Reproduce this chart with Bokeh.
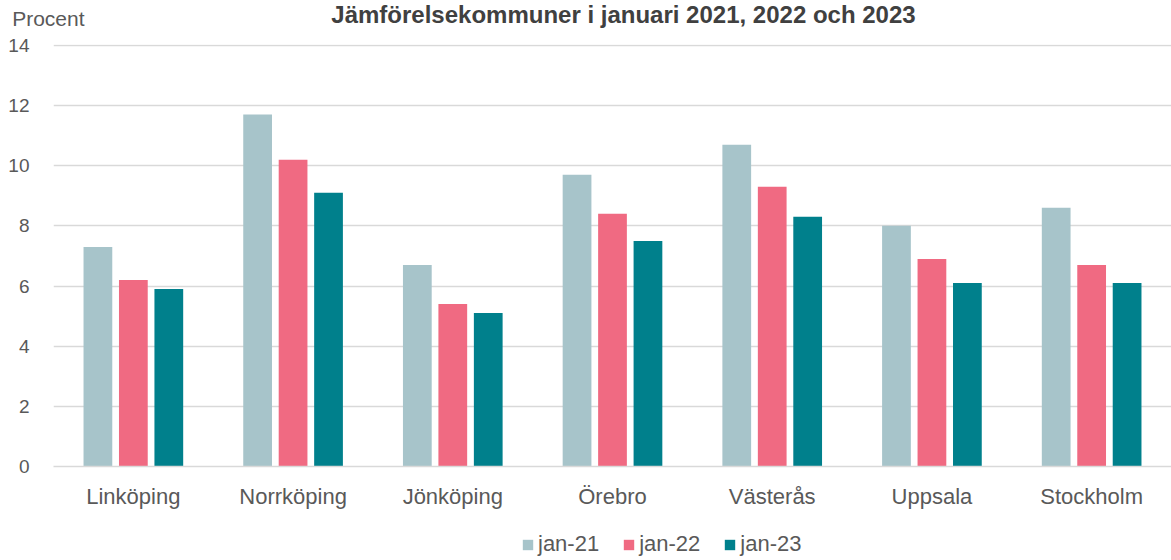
from bokeh.plotting import figure
from bokeh.layouts import column
from bokeh.models import Range1d, FactorRange, Legend, LegendItem, FixedTicker
from bokeh.transform import dodge
from bokeh.embed import file_html
from bokeh.resources import INLINE
from bokeh.core.properties import value

cities = ["Linköping", "Norrköping", "Jönköping", "Örebro", "Västerås", "Uppsala", "Stockholm"]
jan21 = [7.3, 11.7, 6.7, 9.7, 10.7, 8.0, 8.6]
jan22 = [6.2, 10.2, 5.4, 8.4, 9.3, 6.9, 6.7]
jan23 = [5.9, 9.1, 5.1, 7.5, 8.3, 6.1, 6.1]
series_names = ["jan-21", "jan-22", "jan-23"]
colors = ["#A7C4CA", "#F06A82", "#00808C"]
y_ticks = [0, 2, 4, 6, 8, 10, 12, 14]
title_text = "Jämförelsekommuner i januari 2021, 2022 och 2023"
unit_text = "Procent"

FONT = "Liberation Sans"
GREY = "#595959"
W = 1171
HEAD_H = 36
LEG_H = 35
LEFT = 53

# ---- header row: title (in frame) and unit text (as the header's axis label row)
h = figure(width=W, height=HEAD_H, x_range=Range1d(-LEFT, W - LEFT), y_range=Range1d(HEAD_H, 0),
           min_border_left=LEFT, min_border_right=0, min_border_top=0, min_border_bottom=0,
           output_backend="svg", toolbar_location=None)
h.title.visible = False
h.xaxis.visible = False
h.grid.visible = False
h.outline_line_color = None
h.yaxis.ticker = FixedTicker(ticks=[18])
h.yaxis.major_label_overrides = {18: unit_text}
h.yaxis.axis_line_color = None
h.yaxis.major_tick_line_color = None
h.yaxis.minor_tick_line_color = None
h.yaxis.major_label_text_font = FONT
h.yaxis.major_label_text_font_size = "21px"
h.yaxis.major_label_text_color = GREY
h.yaxis.major_label_standoff = -37
h.text(x=[597 - LEFT], y=[0], text=[title_text], text_font=value(FONT), text_font_size="24px",
       text_font_style="bold", text_color="#404040", text_baseline="top", text_align="center")

# ---- main chart
p = figure(x_range=FactorRange(*cities), y_range=Range1d(0, 14.03),
           width=W, height=560 - HEAD_H - LEG_H,
           min_border_left=LEFT, min_border_right=0, min_border_top=8, min_border_bottom=59,
           output_backend="svg", toolbar_location=None)
p.outline_line_color = None
p.title.visible = False

data = dict(city=cities, jan21=jan21, jan22=jan22, jan23=jan23)
offsets = [-0.222, 0.0, 0.222]
keys = ["jan21", "jan22", "jan23"]
for k, off, c in zip(keys, offsets, colors):
    p.vbar(x=dodge("city", off, range=p.x_range), top=k, width=0.18, source=data,
           fill_color=c, line_color=None)

p.xgrid.grid_line_color = None
p.ygrid.grid_line_color = "#D9D9D9"
p.ygrid.grid_line_width = 1.5
p.yaxis.ticker = FixedTicker(ticks=y_ticks)
p.yaxis.axis_line_color = None
p.yaxis.major_tick_line_color = None
p.yaxis.minor_tick_line_color = None
p.yaxis.major_label_text_font = FONT
p.yaxis.major_label_text_font_size = "19px"
p.yaxis.major_label_text_color = GREY
p.yaxis.major_label_standoff = 18

p.xaxis.axis_line_color = "#D9D9D9"
p.xaxis.axis_line_width = 1.5
p.xaxis.major_tick_line_color = None
p.xaxis.minor_tick_line_color = None
p.xaxis.major_label_text_font = FONT
p.xaxis.major_label_text_font_size = "22px"
p.xaxis.major_label_text_color = GREY
p.xaxis.major_label_standoff = 11

# ---- legend row
lg = figure(width=W, height=LEG_H, x_range=Range1d(0, 1), y_range=Range1d(0, 1),
            min_border_left=LEFT, min_border_right=0, min_border_top=0, min_border_bottom=0,
            output_backend="svg", toolbar_location=None)
lg.axis.visible = False
lg.grid.visible = False
lg.outline_line_color = None
lg.title.visible = False
items = []
for n, c in zip(series_names, colors):
    r = lg.vbar(x=[-1], top=[0], width=0.01, fill_color=c, line_color=None)
    items.append(LegendItem(label=n, renderers=[r]))
legend = Legend(items=items, orientation="horizontal", location=(468, 3),
                label_text_font=FONT, label_text_font_size="22px", label_text_color=GREY,
                glyph_width=13, glyph_height=13, label_standoff=4, spacing=23,
                padding=0, margin=0, border_line_color=None, background_fill_alpha=0)
lg.add_layout(legend, "center")

open("out.html", "w").write(file_html(column(h, p, lg, spacing=0), INLINE))
